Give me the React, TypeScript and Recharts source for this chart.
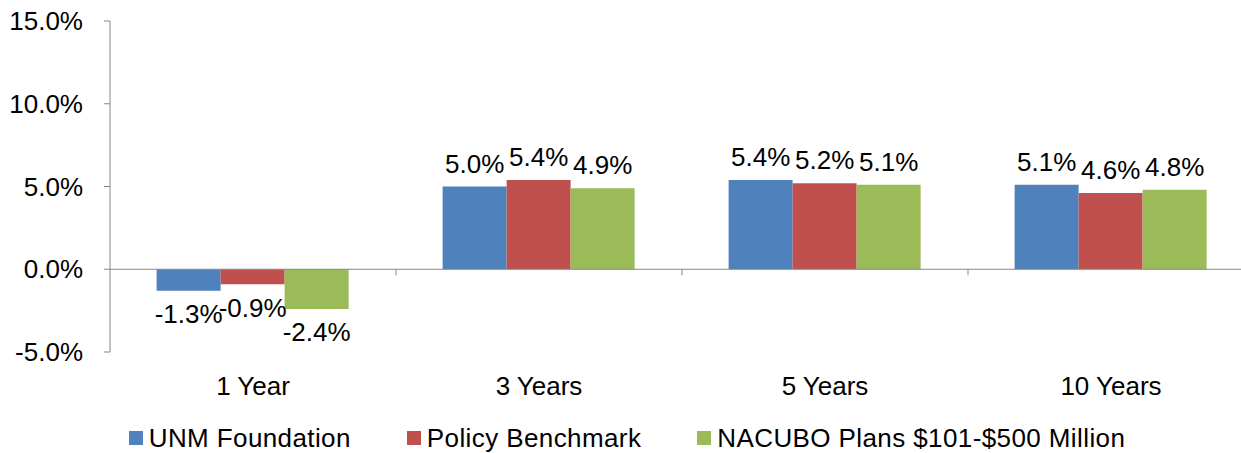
import React from 'react';
import * as R from 'recharts';

const { BarChart, Bar, XAxis, YAxis, ReferenceLine, Legend, LabelList } = R as any;

const categories = ['1 Year', '3 Years', '5 Years', '10 Years'];
const unmFoundation = [-1.3, 5.0, 5.4, 5.1];
const policyBenchmark = [-0.9, 5.4, 5.2, 4.6];
const nacuboPlans = [-2.4, 4.9, 5.1, 4.8];
const seriesNames = ['UNM Foundation', 'Policy Benchmark', 'NACUBO Plans $101-$500 Million'];
const seriesKeys = ['unm', 'policy', 'nacubo'];
const seriesColors = ['#4F81BD', '#C0504D', '#9BBB59'];
const yTicks = [-5, 0, 5, 10, 15];

const data = categories.map((cat, i) => ({
  cat,
  unm: unmFoundation[i],
  policy: policyBenchmark[i],
  nacubo: nacuboPlans[i],
}));

const FONT = "'Liberation Sans', Arial, sans-serif";
const FS = 26;
const AXIS = '#868686';
const Y_MIN = yTicks[0];
const Y_MAX = yTicks[yTicks.length - 1];

const usePlotAreaSafe: any = (R as any).usePlotArea ?? (() => undefined);

function BoundaryTicks() {
  const plot = usePlotAreaSafe();
  if (!plot) return null;
  const y0 = plot.y + (plot.height * (Y_MAX - 0)) / (Y_MAX - Y_MIN);
  const n = categories.length;
  const lines = [];
  for (let i = 1; i < n; i++) {
    const x = plot.x + (plot.width * i) / n;
    lines.push(<line key={i} x1={x} x2={x} y1={y0} y2={y0 + 6} stroke={AXIS} strokeWidth={1} />);
  }
  return <g>{lines}</g>;
}

const fmt = (v: number) => `${Number(v).toFixed(1)}%`;

const renderLegend = () => (
  <div
    style={{
      display: 'flex',
      justifyContent: 'center',
      alignItems: 'center',
      height: 30,
      fontFamily: FONT,
      fontSize: FS,
      letterSpacing: 0.4,
      color: '#000',
    }}
  >
    {seriesNames.map((n, i) => (
      <div key={n} style={{ display: 'flex', alignItems: 'center', marginLeft: i ? 56 : 0 }}>
        <span
          style={{
            width: 14,
            height: 14,
            background: seriesColors[i],
            marginRight: 6,
            display: 'inline-block',
          }}
        />
        <span>{n}</span>
      </div>
    ))}
  </div>
);

export default function App() {
  return (
    <div
      style={{
        position: 'absolute',
        left: 0,
        top: 0,
        width: 1241,
        height: 453,
        overflow: 'hidden',
        background: '#fff',
      }}
    >
      <BarChart
        width={1254}
        height={453}
        data={data}
        margin={{ top: 21, right: 0, left: 0, bottom: 0 }}
        barCategoryGap="16.3%"
        barGap={0}
      >
        <XAxis
          dataKey="cat"
          axisLine={false}
          tickLine={false}
          tickSize={0}
          tickMargin={25}
          height={71}
          interval={0}
          tick={{ fontSize: FS, fill: '#000', fontFamily: FONT }}
        />
        <YAxis
          domain={[Y_MIN, Y_MAX]}
          ticks={yTicks}
          width={110}
          tickSize={6}
          tickMargin={21}
          interval={0}
          axisLine={{ stroke: AXIS }}
          tickLine={{ stroke: AXIS }}
          tickFormatter={fmt}
          tick={{ fontSize: FS, fill: '#000', fontFamily: FONT }}
        />
        <ReferenceLine y={0} stroke={AXIS} strokeWidth={1} />
        {seriesKeys.map((k, i) => (
          <Bar key={k} dataKey={k} name={seriesNames[i]} fill={seriesColors[i]} isAnimationActive={false}>
            <LabelList
              dataKey={k}
              position="top"
              offset={14}
              formatter={fmt}
              style={{ fontSize: FS, fill: '#000', fontFamily: FONT }}
            />
          </Bar>
        ))}
        <BoundaryTicks />
        <Legend verticalAlign="bottom" height={30} content={renderLegend} />
      </BarChart>
    </div>
  );
}
